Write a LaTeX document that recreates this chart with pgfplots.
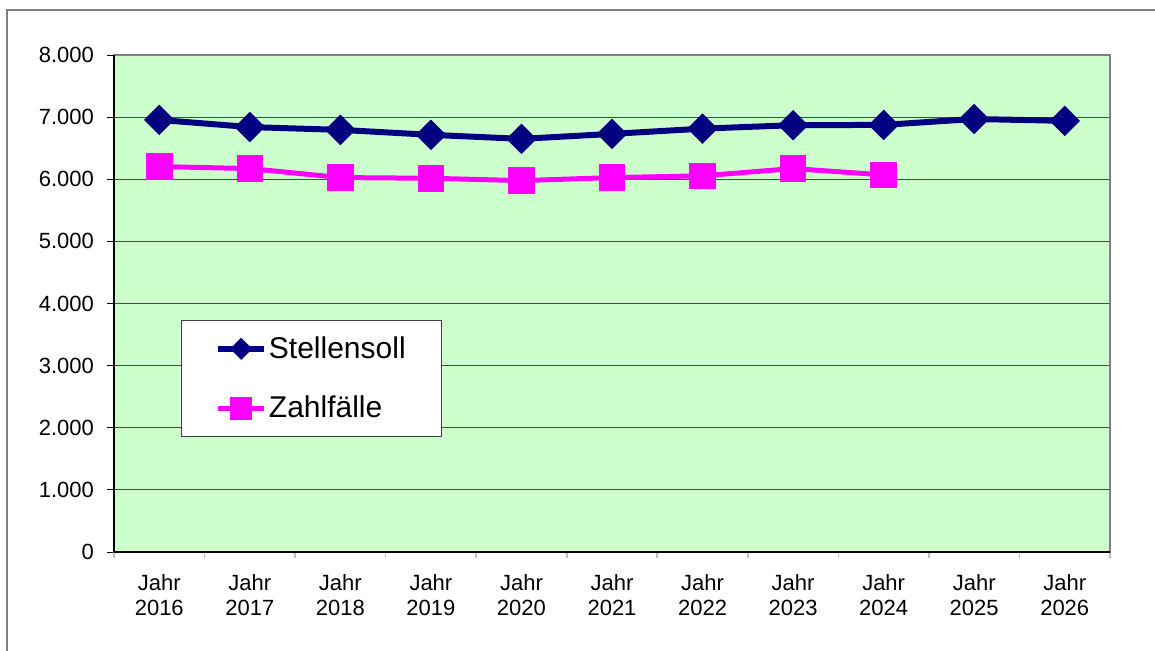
\documentclass[border=0pt]{standalone}
\usepackage{fontspec}
\setmainfont{Liberation Sans}
\usepackage{pgfplots}
\pgfplotsset{compat=1.18}
\definecolor{navyc}{HTML}{000080}
\definecolor{magc}{HTML}{FF00FF}
\definecolor{greenbg}{HTML}{CCFFCC}
\definecolor{gridc}{HTML}{4A4A4A}
\definecolor{framec}{HTML}{808080}
\begin{document}
\begin{tikzpicture}
\useasboundingbox (0,0) rectangle (577.5pt,325pt);
\draw[framec, line width=0.8pt] (3.5pt,-5pt) -- (3.5pt,320pt) -- (590pt,320pt);
\begin{axis}[
  at={(57pt,49pt)}, anchor=south west,
  width=498pt, height=248.5pt, scale only axis,
  xmin=-0.5, xmax=10.5, ymin=0, ymax=8000,
  xtick={0,...,10},
  xticklabels={{Jahr\\2016},{Jahr\\2017},{Jahr\\2018},{Jahr\\2019},{Jahr\\2020},{Jahr\\2021},{Jahr\\2022},{Jahr\\2023},{Jahr\\2024},{Jahr\\2025},{Jahr\\2026}},
  xticklabel style={align=center, font=\fontsize{11}{12.5}\selectfont, yshift=-4pt},
  major x tick style={draw=none},
  minor xtick={-0.5,0.5,...,10.5},
  minor x tick style={draw=lightgray, line width=0.8pt},
  minor tick length=3pt,
  ytick={0,1000,...,8000},
  yticklabel style={font=\fontsize{11}{13}\selectfont, xshift=-3pt},
  y tick style={black, line width=0.5pt},
  major tick length=3.5pt,
  tick align=outside,
  xtick pos=bottom, ytick pos=left,
  ymajorgrids, major grid style={gridc, line width=0.5pt},
  /pgf/number format/.cd, 1000 sep={.}, assume math mode=true,
  /pgfplots/.cd,
  axis background/.style={fill=greenbg},
  axis line style={framec, line width=1.2pt},
  legend style={at={(rel axis cs:0.0673,0.4668)}, anchor=north west,
    draw=darkgray, fill=white, font=\fontsize{15}{17}\selectfont,
    inner xsep=17pt, inner ysep=7pt, row sep=15.5pt,
    nodes={inner sep=1pt}},
  legend cell align=left,
  after end axis/.code={
    \draw[black, line width=0.6pt] (rel axis cs:0,0) -- (rel axis cs:0,1);
    \draw[black, line width=1pt] (rel axis cs:0,0) -- (rel axis cs:1,0);
  },
]
\addplot[navyc, line width=3pt, mark=square*, mark size=3.9pt, mark options={rotate=45, solid, fill=navyc, draw=none},
  legend image code/.code={\draw[navyc, line width=3pt] (0cm,0cm) -- (0.8cm,0cm);
    \fill[navyc, rotate around={45:(0.4cm,0cm)}] (0.4cm,0cm) ++(-2.4pt,-2.4pt) rectangle ++(4.8pt,4.8pt);}]
  coordinates {(0,6955)(1,6840)(2,6795)(3,6715)(4,6650)(5,6730)(6,6815)(7,6870)(8,6875)(9,6970)(10,6940)};
\addlegendentry{Stellensoll}
\addplot[magc, line width=2.5pt, mark=square*, mark size=5.4pt, mark options={solid, fill=magc, draw=none},
  legend image code/.code={\draw[magc, line width=2.5pt] (0cm,0cm) -- (0.8cm,0cm);
    \fill[magc] (0.4cm,0cm) ++(-4.3pt,-4.3pt) rectangle ++(8.6pt,8.6pt);}]
  coordinates {(0,6204)(1,6172)(2,6027)(3,6016)(4,5978)(5,6027)(6,6055)(7,6172)(8,6070)};
\addlegendentry{Zahlfälle}
\end{axis}
\end{tikzpicture}
\end{document}
